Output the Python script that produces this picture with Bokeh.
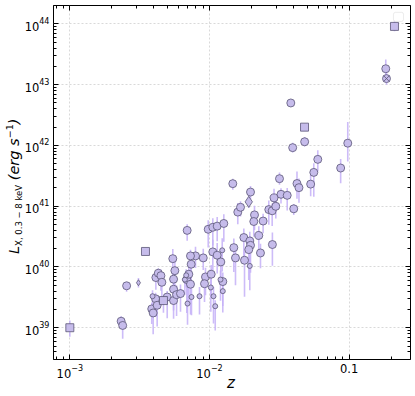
import numpy as np
from bokeh.plotting import figure
from bokeh.models import (Range1d, LogAxis, FixedTicker, BoxAnnotation,
                          ColumnDataSource, CustomJSTickFormatter, Div)
from bokeh.layouts import row
from bokeh.embed import file_html
from bokeh.resources import INLINE

# ---------------- data ----------------
# large circles: redshift, luminosity (erg/s), error down / up (dex)
circ_z = [0.00233, 0.00239, 0.00255, 0.00692, 0.00546, 0.00413, 0.0043, 0.00449,
          0.00456, 0.00565, 0.00553, 0.00553, 0.00411, 0.00386, 0.00395, 0.00422,
          0.00498, 0.00553, 0.00581, 0.00620, 0.00688, 0.00711, 0.00731, 0.00979,
          0.01056, 0.01135, 0.01266, 0.01594, 0.0210, 0.02075, 0.02254, 0.01761,
          0.01943, 0.01966, 0.0191, 0.01493, 0.01535, 0.01781, 0.02317, 0.01056,
          0.01135, 0.01205, 0.00902, 0.00794, 0.00731, 0.00739, 0.00936, 0.01028,
          0.00921, 0.01245, 0.01468, 0.01966, 0.01667, 0.02658, 0.0281, 0.02983,
          0.02897, 0.0317, 0.0325, 0.0360, 0.0382, 0.0480, 0.0394, 0.0977,
          0.0596, 0.0558, 0.0869, 0.0530, 0.0423, 0.0437, 0.0401, 0.0242,
          0.0282, 0.1828]
circ_L = [1.28e39, 1.09e39, 4.9e39, 4.0e40, 1.37e40, 6.7e39, 7.9e39, 7.2e39,
          5.6e39, 8.7e39, 6.3e39, 4.3e39, 3.0e39, 2.04e39, 1.75e39, 2.34e39,
          3.2e39, 2.8e39, 3.5e39, 3.65e39, 6.2e39, 7.6e39, 5.2e39, 4.17e40,
          4.5e40, 4.7e40, 5.2e40, 8.0e40, 7.2e40, 5.6e40, 3.3e40, 3.05e40,
          2.68e40, 2.27e40, 1.93e40, 2.08e40, 1.41e40, 1.29e40, 1.70e40, 1.77e40,
          1.56e40, 1.21e40, 1.41e40, 1.52e40, 1.52e40, 1.11e40, 6.85e39, 7.6e39,
          5.3e39, 5.75e39, 2.35e41, 1.71e41, 9.6e40, 8.8e40, 8.4e40, 9.96e40,
          1.37e41, 2.84e41, 1.57e41, 1.51e41, 5.0e42, 1.15e42, 9.2e41, 1.09e42,
          5.9e41, 3.6e41, 4.25e41, 2.31e41, 2.36e41, 2.02e41, 9.06e40, 5.7e40,
          2.34e40, 1.83e43]
circ_lo = [0.10, 0.22, 0.10, 0.17, 0.28, 0.20, 0.15, 0.25,
           0.30, 0.25, 0.30, 0.35, 0.30, 0.25, 0.35, 0.35,
           0.35, 0.30, 0.35, 0.30, 0.55, 0.50, 0.50, 0.30,
           0.30, 0.25, 0.30, 0.20, 0.25, 0.25, 0.30, 0.35,
           0.40, 0.45, 0.50, 0.40, 0.45, 0.60, 0.25, 0.30,
           0.30, 0.30, 0.20, 0.20, 0.25, 0.30, 0.30, 0.35,
           0.30, 0.40, 0.10, 0.12, 0.15, 0.25, 0.25, 0.20,
           0.20, 0.10, 0.15, 0.25, 0.05, 0.08, 0.08, 0.30,
           0.20, 0.40, 0.25, 0.20, 0.25, 0.25, 0.10, 0.20,
           0.35, 0.12]
circ_hi = [0.08, 0.05, 0.06, 0.10, 0.16, 0.10, 0.08, 0.10,
           0.12, 0.15, 0.12, 0.15, 0.10, 0.10, 0.08, 0.12,
           0.10, 0.12, 0.15, 0.15, 0.15, 0.20, 0.15, 0.15,
           0.15, 0.15, 0.15, 0.15, 0.15, 0.12, 0.15, 0.15,
           0.15, 0.15, 0.15, 0.15, 0.15, 0.15, 0.15, 0.20,
           0.20, 0.15, 0.15, 0.15, 0.10, 0.15, 0.15, 0.15,
           0.15, 0.15, 0.08, 0.10, 0.10, 0.15, 0.12, 0.12,
           0.15, 0.10, 0.10, 0.12, 0.05, 0.08, 0.08, 0.35,
           0.15, 0.15, 0.15, 0.15, 0.20, 0.15, 0.08, 0.12,
           0.20, 0.15]

# small circles
small_z = [0.00391, 0.00696, 0.00666, 0.00681, 0.00743, 0.00848, 0.01022,
           0.01068, 0.01099, 0.01199, 0.01245, 0.01233, 0.01943]
small_L = [3.3e39, 2.5e39, 6.2e39, 7.3e39, 3.2e39, 3.3e39, 4.6e39,
           3.3e39, 2.26e39, 6.2e39, 4.0e39, 1.88e40, 1.04e40]
small_lo = [0.25, 0.35, 0.25, 0.20, 0.30, 0.30, 0.40, 0.45, 0.40, 0.35, 0.35, 0.35, 0.40]
small_hi = [0.10, 0.30, 0.10, 0.10, 0.15, 0.15, 0.15, 0.15, 0.10, 0.15, 0.15, 0.20, 0.15]

# squares
sq_z = [0.001, 0.00348, 0.00468, 0.0479, 0.211]
sq_L = [1.0e39, 1.8e40, 2.8e39, 2.0e42, 9.1e43]
sq_lo = [0.15, 0.0, 0.20, 0.0, 0.08]
sq_hi = [0.12, 0.0, 0.08, 0.0, 0.08]

# diamonds
dia_z = [0.0191]
dia_L = [1.18e41]
dia_lo = [0.10]
dia_hi = [0.10]

sdia_z = [0.0031]
sdia_L = [5.5e39]
sdia_lo = [0.08]
sdia_hi = [0.08]

# circle with cross
cx_z = [0.185]
cx_L = [1.26e43]
cx_lo = [0.10]
cx_hi = [0.12]

x_major = [1e-3, 1e-2, 1e-1]
y_major = [1e39, 1e40, 1e41, 1e42, 1e43, 1e44]

FILL = "#c6bceb"
EDGE = "#5a5676"
ERR = "#c4b0f7"
FONT = "DejaVu Sans"

p = figure(width=394, height=396, x_axis_type="log", y_axis_type="log",
           x_range=Range1d(7.64e-4, 0.2748), y_range=Range1d(3.0e38, 2.01e44),
           output_backend="svg", toolbar_location=None,
           min_border_left=28, min_border_right=5, min_border_top=5,
           min_border_bottom=37, margin=0)
p.background_fill_color = "white"
p.border_fill_color = None
p.outline_line_color = "black"
p.outline_line_width = 1


def minor_for(decades):
    out = []
    for d in decades:
        for k in range(2, 10):
            out.append(k * d)
    return out


x_minor = minor_for([1e-4, 1e-3, 1e-2, 1e-1])
y_minor = minor_for([1e38, 1e39, 1e40, 1e41, 1e42, 1e43, 1e44])
xt = FixedTicker(ticks=x_major, minor_ticks=x_minor)
yt = FixedTicker(ticks=y_major, minor_ticks=y_minor)


def style_axis(ax, show_labels):
    ax.axis_line_color = None
    ax.major_tick_in = 5
    ax.major_tick_out = 0
    ax.minor_tick_in = 3
    ax.minor_tick_out = 0
    ax.major_tick_line_color = "black"
    ax.minor_tick_line_color = "black"
    ax.major_label_text_font = FONT
    ax.major_label_text_color = "black"
    ax.major_label_text_font_size = "11.5px"
    if show_labels:
        ax.major_label_standoff = 4
    else:
        ax.formatter = CustomJSTickFormatter(code="return ' '")
        ax.major_label_text_font_size = "1px"
        ax.major_label_standoff = 0


p.xaxis[0].ticker = xt
p.yaxis[0].ticker = yt
p.xaxis[0].major_label_overrides = {0.1: "0.1"}
style_axis(p.xaxis[0], True)
style_axis(p.yaxis[0], True)

top_ax = LogAxis(ticker=xt)
right_ax = LogAxis(ticker=yt)
style_axis(top_ax, False)
style_axis(right_ax, False)
p.add_layout(top_ax, "above")
p.add_layout(right_ax, "right")

p.xgrid.ticker = xt
p.ygrid.ticker = yt
for g in (p.xgrid, p.ygrid):
    g.grid_line_color = "#cfcfcf"
    g.grid_line_dash = "2 2"
    g.grid_line_width = 0.8


def draw(zs, Ls, lo, hi, marker, size):
    Ls_a = np.array(Ls)
    src = ColumnDataSource(dict(
        z=zs, L=Ls,
        y0=Ls_a * 10 ** (-np.array(lo)),
        y1=Ls_a * 10 ** (np.array(hi)),
    ))
    p.segment(x0="z", x1="z", y0="y0", y1="y1", source=src,
              line_color=ERR, line_width=1.6, line_alpha=0.85)
    return src, marker, size


groups = [
    draw(circ_z, circ_L, circ_lo, circ_hi, "circle", 8),
    draw(small_z, small_L, small_lo, small_hi, "circle", 5),
    draw(sq_z, sq_L, sq_lo, sq_hi, "square", 8),
    draw(dia_z, dia_L, dia_lo, dia_hi, "diamond", 11),
    draw(sdia_z, sdia_L, sdia_lo, sdia_hi, "diamond", 6),
    draw(cx_z, cx_L, cx_lo, cx_hi, "circle_x", 8),
]
for src, marker, size in groups:
    p.scatter(x="z", y="L", source=src, marker=marker, size=size,
              fill_color=FILL, line_color=EDGE, line_width=0.8)

# empty legend frame in the top right corner
p.add_layout(BoxAnnotation(left=0.2075, right=0.245, top=1.55e44, bottom=1.10e44,
                           fill_color="white", fill_alpha=1,
                           line_color="#c0c0c0", line_width=1,
                           border_radius=2))

# axis titles as HTML text (italic L with subscript, superscript unit)
ylabel_html = (
    '<div style="position:relative;width:21px;height:396px;overflow:visible;'
    'font-family:\'DejaVu Sans\';color:black;">'
    '<div style="position:absolute;left:6px;top:254px;transform:rotate(-90deg);'
    'transform-origin:0 0;white-space:nowrap;font-size:14.5px;line-height:17px;">'
    '<i>L</i><span style="font-size:8.5px;position:relative;top:3px;">'
    'X, 0.3 \u2212 8 keV</span> <i>(erg s</i>'
    '<span style="font-size:9.5px;position:relative;top:-6px;">\u22121</span>'
    '<i>)</i></div>'
    '<div style="position:absolute;left:227px;top:375px;font-size:15px;'
    'line-height:17px;font-style:italic;white-space:nowrap;">z</div>'
    '</div>'
)
ydiv = Div(text=ylabel_html, width=21, height=396, margin=0,
           styles={"overflow": "visible"})

layout = row(ydiv, p, margin=0, spacing=0)
open("out.html", "w").write(file_html(layout, INLINE))
